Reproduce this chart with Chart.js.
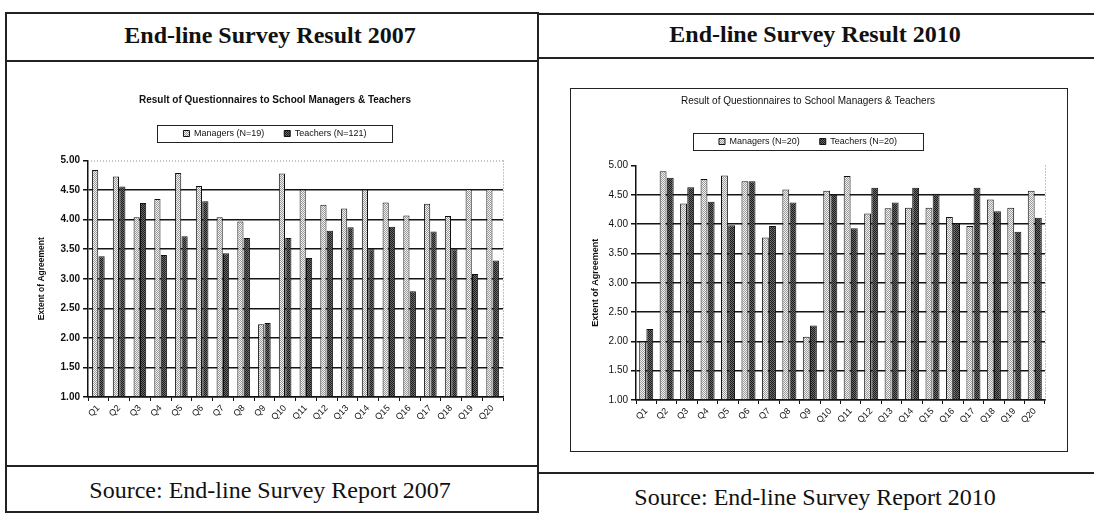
<!DOCTYPE html>
<html>
<head>
<meta charset="utf-8">
<title>End-line Survey Result 2007 / 2010</title>
<script src="https://cdn.jsdelivr.net/npm/chart.js@4.4.1/dist/chart.umd.min.js"></script>
<style>
  body {
    margin: 0;
    width: 1094px;
    height: 516px;
    position: relative;
    overflow: hidden;
    background: #fff;
    font-family: "Liberation Serif", "Times New Roman", serif;
    color: #111;
  }
  .rule { position: absolute; background: #222; }
  .head, .src {
    position: absolute;
    transform: translate(-50%, -50%);
    white-space: nowrap;
    font-size: 24px;
  }
  .head { font-weight: bold; }
  .plot { position: absolute; }
  #frame2010 {
    position: absolute;
    left: 570px; top: 88px; width: 498px; height: 364px;
    box-sizing: border-box;
    border: 1px solid #222;
  }
</style>
</head>
<body>

<!-- table rules -->
<div class="rule" style="left:5px; top:12px; width:532px; height:2px"></div>
<div class="rule" style="left:537px; top:13px; width:557px; height:2px"></div>
<div class="rule" style="left:5px; top:60px; width:532px; height:2px"></div>
<div class="rule" style="left:537px; top:57px; width:557px; height:2px"></div>
<div class="rule" style="left:5px; top:465px; width:532px; height:2px"></div>
<div class="rule" style="left:537px; top:472px; width:557px; height:2px"></div>
<div class="rule" style="left:5px; top:511px; width:532px; height:2px"></div>
<div class="rule" style="left:5px; top:12px; width:2px; height:501px"></div>
<div class="rule" style="left:537px; top:12px; width:2px; height:501px"></div>

<div class="head" style="left:270px; top:35px">End-line Survey Result 2007</div>
<div class="head" style="left:815px; top:34px">End-line Survey Result 2010</div>
<div class="src" style="left:270px; top:490px">Source: End-line Survey Report 2007</div>
<div class="src" style="left:815px; top:497px">Source: End-line Survey Report 2010</div>

<div id="frame2010"></div>
<div class="plot" style="left:8px; top:64px; width:560px; height:394px"><canvas id="chart2007"></canvas></div>
<div class="plot" style="left:571px; top:89px; width:496px; height:362px"><canvas id="chart2010"></canvas></div>

<script>
// Questions Q1..Q20
const questions = ['Q1', 'Q2', 'Q3', 'Q4', 'Q5', 'Q6', 'Q7', 'Q8', 'Q9', 'Q10',
  'Q11', 'Q12', 'Q13', 'Q14', 'Q15', 'Q16', 'Q17', 'Q18', 'Q19', 'Q20'];

// 2007 end-line survey (Managers N=19, Teachers N=121)
const managers2007 = [4.84, 4.73, 4.04, 4.35, 4.79, 4.57, 4.04, 3.97, 2.23, 4.78,
  4.51, 4.25, 4.19, 4.51, 4.29, 4.07, 4.27, 4.06, 4.52, 4.52];
const teachers2007 = [3.38, 4.56, 4.28, 3.40, 3.72, 4.31, 3.43, 3.69, 2.25, 3.69,
  3.35, 3.81, 3.87, 3.50, 3.88, 2.79, 3.80, 3.50, 3.08, 3.31];

// 2010 end-line survey (Managers N=20, Teachers N=20)
const managers2010 = [2.00, 4.90, 4.35, 4.77, 4.83, 4.73, 3.77, 4.59, 2.08, 4.57,
  4.82, 4.18, 4.27, 4.28, 4.28, 4.12, 3.97, 4.42, 4.28, 4.57];
const teachers2010 = [2.21, 4.79, 4.63, 4.38, 3.98, 4.73, 3.97, 4.37, 2.27, 4.50,
  3.93, 4.62, 4.37, 4.62, 4.52, 4.02, 4.62, 4.22, 3.87, 4.11];

// Agreement scale
const yMin = 1.00;
const yMax = 5.00;
const yStep = 0.50;

const chartTitle = 'Result of Questionnaires to School Managers & Teachers';
const axisTitle = 'Extent of Agreement';

// grainy fills, like a photocopied Excel chart
function grain(base, dot) {
  const c = document.createElement('canvas');
  c.width = 2; c.height = 2;
  const g = c.getContext('2d');
  g.fillStyle = base; g.fillRect(0, 0, 2, 2);
  g.fillStyle = dot; g.fillRect(0, 0, 1, 1); g.fillRect(1, 1, 1, 1);
  return g.createPattern(c, 'repeat');
}
const lightFill = grain('#f2f2f2', '#9a9a9a');
const darkFill = grain('#6a6a6a', '#1c1c1c');

const sans = 'Liberation Sans, Arial, sans-serif';

// legend height is fixed so the plot top lands where wanted
const legendHeight = {
  id: 'legendHeight',
  beforeLayout(chart, args, opts) {
    const lg = chart.legend;
    if (!lg || lg._fixed) return;
    const fit = lg.fit;
    lg.fit = function () { fit.call(this); this.height = opts.height; };
    lg._fixed = true;
  }
};

// thin box round the legend items + dotted plot edges
const frames = {
  id: 'frames',
  afterDraw(chart, args, opts) {
    const ctx = chart.ctx;
    const boxes = chart.legend ? chart.legend.legendHitBoxes : [];
    if (boxes.length) {
      const l = Math.min(...boxes.map(b => b.left)) - opts.mx;
      const r = Math.max(...boxes.map(b => b.left + b.width)) + opts.mx;
      const t = Math.min(...boxes.map(b => b.top)) - opts.my;
      const btm = Math.max(...boxes.map(b => b.top + b.height)) + opts.my;
      ctx.save();
      ctx.strokeStyle = '#222';
      ctx.lineWidth = 1;
      ctx.strokeRect(Math.round(l) + 0.5, Math.round(t) + 0.5, Math.round(r - l), Math.round(btm - t));
      ctx.restore();
    }
    const a = chart.chartArea;
    ctx.save();
    ctx.strokeStyle = '#8a8a8a';
    ctx.lineWidth = 1;
    ctx.setLineDash([1, 2]);
    ctx.beginPath();
    if (opts.top) { ctx.moveTo(a.left, a.top + 0.5); ctx.lineTo(a.right, a.top + 0.5); }
    ctx.moveTo(a.right + 0.5, a.top); ctx.lineTo(a.right + 0.5, a.bottom);
    ctx.stroke();
    ctx.restore();
  }
};

function buildChart(id, cfg) {
  return new Chart(document.getElementById(id), {
    type: 'bar',
    data: {
      labels: questions,
      datasets: [
        {
          label: cfg.labels[0],
          data: cfg.managers,
          backgroundColor: lightFill,
          borderColor: '#111',
          borderWidth: 1,
          base: yMin,
          categoryPercentage: cfg.catPct,
          barPercentage: 0.96
        },
        {
          label: cfg.labels[1],
          data: cfg.teachers,
          backgroundColor: darkFill,
          borderColor: '#111',
          borderWidth: 1,
          base: yMin,
          categoryPercentage: cfg.catPct,
          barPercentage: 0.96
        }
      ]
    },
    options: {
      responsive: true,
      maintainAspectRatio: false,
      animation: false,
      color: '#111',
      layout: { padding: { left: 0, right: cfg.padRight, top: 0, bottom: 0 } },
      plugins: {
        tooltip: { enabled: false },
        title: {
          display: true,
          text: chartTitle,
          color: '#111',
          font: { family: sans, size: 10, weight: cfg.titleWeight },
          padding: cfg.titlePad
        },
        legend: {
          display: true,
          labels: {
            color: '#111',
            font: { family: sans, size: 9 },
            boxWidth: 6,
            boxHeight: 6,
            padding: 20
          }
        },
        legendHeight: { height: cfg.legendH },
        frames: { mx: 26, my: 4, top: cfg.topEdge }
      },
      scales: {
        x: {
          grid: {
            display: true,
            drawOnChartArea: false,
            drawTicks: true,
            tickLength: 4,
            color: '#111',
            lineWidth: 1
          },
          border: { display: true, color: '#111', width: 1.5 },
          ticks: {
            color: '#111',
            font: { family: sans, size: 9 },
            minRotation: 45,
            maxRotation: 45,
            autoSkip: false,
            padding: 2
          },
          afterFit(scale) {
            scale.height = cfg.xHeight;
            scale.paddingLeft = 0;
            scale.paddingRight = cfg.plotPadRight;
          }
        },
        y: {
          min: yMin,
          max: yMax,
          grid: {
            color: c => (c.tick && c.tick.value === yMax ? 'rgba(0,0,0,0)' : '#151515'),
            lineWidth: 1.5,
            drawTicks: true,
            tickLength: 5,
            tickColor: '#111'
          },
          border: { display: true, color: '#111', width: 1.5 },
          ticks: {
            stepSize: yStep,
            color: '#111',
            font: { family: sans, size: 10, weight: cfg.tickWeight },
            padding: 3,
            callback: v => Number(v).toFixed(2)
          },
          title: {
            display: true,
            text: axisTitle,
            color: '#111',
            font: { family: sans, size: cfg.axisTitleSize, weight: 'bold' },
            padding: { top: cfg.axisTitlePad, bottom: 0 }
          },
          afterFit(scale) {
            scale.width = cfg.yWidth;
          }
        }
      }
    },
    plugins: [legendHeight, frames]
  });
}

// 2007 chart, no outer frame
buildChart('chart2007', {
  labels: ['Managers (N=19)', 'Teachers (N=121)'],
  managers: managers2007,
  teachers: teachers2007,
  catPct: 0.62,
  padRight: 26,
  plotPadRight: 65,
  xHeight: 61,
  yWidth: 80,
  titlePad: { top: 30, bottom: 3 },
  titleWeight: 'bold',
  legendH: 51.5,
  tickWeight: 'bold',
  axisTitleSize: 8.5,
  axisTitlePad: 29,
  topEdge: true
});

// 2010 chart, drawn inside its frame
buildChart('chart2010', {
  labels: ['Managers (N=20)', 'Teachers (N=20)'],
  managers: managers2010,
  teachers: teachers2010,
  catPct: 0.7,
  padRight: 22,
  plotPadRight: 22,
  xHeight: 51,
  yWidth: 65,
  titlePad: { top: 6, bottom: 10 },
  titleWeight: 'normal',
  legendH: 48.5,
  tickWeight: 'normal',
  axisTitleSize: 9,
  axisTitlePad: 19,
  topEdge: false
});
</script>
</body>
</html>
